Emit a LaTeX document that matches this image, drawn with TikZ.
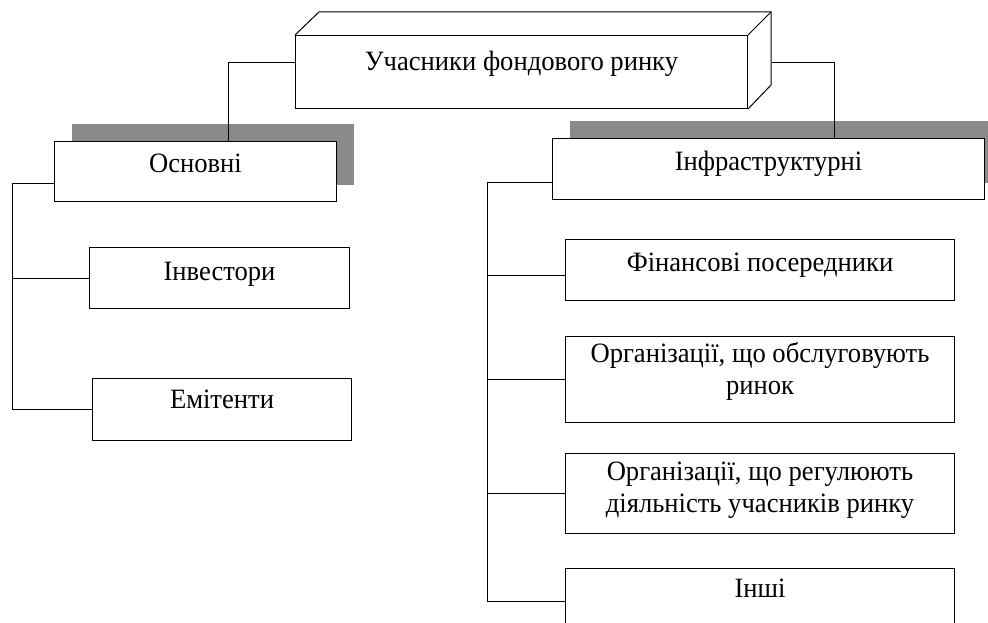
\documentclass[tikz,border=0pt]{standalone}
\usepackage{fontspec}
\setmainfont{Liberation Serif}[FakeStretch=0.95]
\usetikzlibrary{positioning,shadows}
\definecolor{shadowGray}{RGB}{138,138,138}
\tikzstyle{chart} = [x=1pt, y=-1pt]
\tikzstyle{boxStyle} = [draw, line width=1pt, fill=white, inner sep=0pt, anchor=north west, align=center, font=\fontsize{28}{32}\selectfont]
\tikzstyle{shadowStyle} = [drop shadow={shadow xshift=17pt, shadow yshift=17pt, opacity=1, fill=shadowGray}]
\tikzstyle{linkLine} = [line width=1pt]
\newcommand{\participantBox}[7]{\node [boxStyle, minimum width=#4pt, text height=#5pt, text depth=#6pt] (#1) at (#2,#3) {#7};}
\newcommand{\groupBox}[7]{\node [boxStyle, shadowStyle, minimum width=#4pt, text height=#5pt, text depth=#6pt] (#1) at (#2,#3) {#7};}

\begin{document}
\begin{tikzpicture}[chart]
\path [use as bounding box, fill=white] (0,0) rectangle (988,623);
\participantBox{top}{295}{35}{452}{35}{38}{Учасники фондового ринку}
\draw [linkLine] (top.north west) -- ++(24,-23) coordinate (backNW) -- ++(452,0) coordinate (backNE) -- ++(0,73) -- (top.south east);
\draw [linkLine] (backNE) -- (top.north east);
\groupBox{osn}{54}{141}{282}{31}{29}{Основні}
\groupBox{infra}{552}{138}{432}{32}{29}{Інфраструктурні}
\participantBox{inv}{89}{247}{260}{33}{28}{Інвестори}
\participantBox{emi}{92}{378}{259}{30}{32}{Емітенти}
\participantBox{fin}{565}{239}{389}{32}{29}{Фінансові посередники}
\participantBox{obs}{565}{336}{389}{58}{28}{Організації, що обслуговують\\ринок}
\participantBox{reg}{565}{453}{389}{59}{21}{Організації, що регулюють\\діяльність учасників ринку}
\participantBox{inshi}{565}{568}{389}{29}{37}{Інші}
\coordinate (leftBus) at (12,0);
\coordinate (rightBus) at (487,0);
\coordinate (finLink) at ([yshift=-5pt]fin.west);
\draw [linkLine] ([yshift=9.5pt]top.west) -| ([xshift=33pt]osn.north);
\draw [linkLine] ([shift={(24,-9.5)}]top.east) -| ([xshift=66pt]infra.north);
\draw [linkLine] ([yshift=-12pt]osn.west) -| (leftBus |- emi.west) -- (emi.west);
\draw [linkLine] (inv.west) -- (leftBus |- inv.west);
\draw [linkLine] ([yshift=-13pt]infra.west) -| (rightBus |- inshi.west) -- (inshi.west);
\draw [linkLine] (finLink) -- (rightBus |- finLink);
\draw [linkLine] (obs.west) -- (rightBus |- obs.west);
\draw [linkLine] (reg.west) -- (rightBus |- reg.west);
\end{tikzpicture}
\end{document}
